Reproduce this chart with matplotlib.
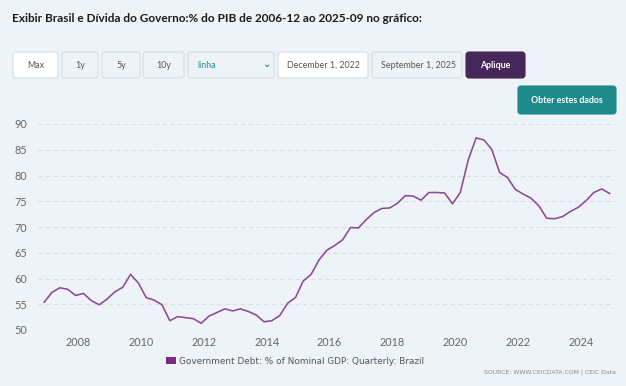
import datetime as dt

import matplotlib
matplotlib.use("Agg")
import matplotlib.dates as mdates
import matplotlib.pyplot as plt
import pandas as pd
from matplotlib.patches import FancyBboxPatch, Rectangle

# Quarterly government debt, % of nominal GDP, Brazil (Dec 2006 .. Dec 2024)
start_date = "2006-12-01"
debt_pct = [
    55.4, 57.3, 58.2, 57.9, 56.7, 57.1, 55.7, 54.9, 56.0, 57.4,
    58.3, 60.8, 59.1, 56.3, 55.8, 54.9, 51.8, 52.6, 52.4, 52.2,
    51.3, 52.7, 53.4, 54.1, 53.7, 54.1, 53.6, 52.9, 51.6, 51.8,
    52.8, 55.2, 56.3, 59.5, 60.8, 63.6, 65.5, 66.4, 67.5, 69.9,
    69.8, 71.4, 72.8, 73.6, 73.7, 74.6, 76.1, 76.0, 75.2, 76.7,
    76.7, 76.6, 74.5, 76.7, 83.0, 87.3, 86.9, 85.1, 80.6, 79.6,
    77.3, 76.4, 75.6, 74.1, 71.7, 71.6, 72.0, 73.0, 73.8, 75.1,
    76.7, 77.4, 76.5,
]
dates = pd.date_range(start_date, periods=len(debt_pct), freq="QS-DEC")

title = "Exibir Brasil e Dívida do Governo:% do PIB de 2006-12 ao 2025-09 no gráfico:"
series_name = "Government Debt: % of Nominal GDP: Quarterly: Brazil"
source_text = "SOURCE: WWW.CEICDATA.COM | CEIC Data"
y_ticks = [50, 55, 60, 65, 70, 75, 80, 85, 90]

W, H = 626, 386
BG = "#eef3f8"
LINE = "#8a4a99"
GREY = "#666666"

plt.rcParams["font.family"] = ["Lato", "DejaVu Sans"]

fig = plt.figure(figsize=(W / 100, H / 100), dpi=100, facecolor=BG)

# overlay in pixel coordinates for the page furniture
ui = fig.add_axes([0, 0, 1, 1])
ui.set_xlim(0, W)
ui.set_ylim(H, 0)
ui.axis("off")
ui.set_facecolor(BG)

ui.text(12, 18, title, fontsize=8.45, fontweight="bold", color="#1a1a1a",
        va="center", ha="left")


def button(x0, x1, y0, y1, label, face, text_color, edge="#d5dde6",
           bold=False, align="center"):
    ui.add_patch(FancyBboxPatch((x0, y0), x1 - x0, y1 - y0,
                                boxstyle="round,pad=0,rounding_size=3",
                                facecolor=face, edgecolor=edge, linewidth=0.8))
    if align == "center":
        tx, ha = (x0 + x1) / 2, "center"
    else:
        tx, ha = x0 + 9, "left"
    ui.text(tx, (y0 + y1) / 2 + 0.5, label, fontsize=6.4, color=text_color,
            ha=ha, va="center", fontweight="bold" if bold else "normal")


button(13, 58, 52, 78, "Max", "#ffffff", "#555555")
button(62, 98, 52, 78, "1y", "#eef3f8", "#555555")
button(102, 140, 52, 78, "5y", "#eef3f8", "#555555")
button(143, 184, 52, 78, "10y", "#eef3f8", "#555555")
button(188, 274, 52, 78, "linha", "#eef3f8", "#1f8a8c", align="left")
ui.text(266, 64, "⌄", fontsize=7, color="#1f8a8c", ha="center", va="center",
        fontfamily="DejaVu Sans", fontweight="bold")
button(278, 368, 52, 78, "December 1, 2022", "#ffffff", "#555555", align="left")
button(372, 462, 52, 78, "September 1, 2025", "#eef3f8", "#555555", align="left")
button(466, 525, 52, 78, "Aplique", "#472659", "#ffffff", edge="#472659", bold=True)
button(518, 616, 86, 114, "Obter estes dados", "#1e8a8c", "#ffffff",
       edge="#1e8a8c", bold=True)

# legend + source
ui.add_patch(Rectangle((166, 357), 10, 7, facecolor="#7a2a86", edgecolor="none"))
ui.text(179, 361, series_name, fontsize=6.4, color="#555555", ha="left",
        va="center", fontfamily="DejaVu Sans")
ui.text(616, 372, source_text, fontsize=4.4, color="#888888", ha="right",
        va="center", fontfamily="DejaVu Sans")

# chart area: 90 at y=124, 50 at y=330, x from 38 to 615
ax = fig.add_axes([38 / W, (H - 330) / H, (615 - 38) / W, (330 - 124) / H])
ax.set_facecolor("none")
ax.plot(dates, debt_pct, color=LINE, linewidth=1.15, clip_on=False)
ax.set_ylim(50, 90)
ax.set_xlim(dt.datetime(2006, 9, 20), dt.datetime(2025, 2, 2))
ax.set_yticks(y_ticks)
ax.xaxis.set_major_locator(mdates.YearLocator(2))
ax.xaxis.set_major_formatter(mdates.DateFormatter("%Y"))
ax.grid(axis="y", color="#d9dee4", linestyle=(0, (4, 3)), linewidth=0.8)
ax.grid(axis="x", visible=False)
ax.set_axisbelow(True)
for side in ax.spines.values():
    side.set_visible(False)
ax.tick_params(axis="both", length=0, labelsize=7.8, labelcolor=GREY)
ax.tick_params(axis="y", pad=8)
ax.tick_params(axis="x", pad=5)

fig.savefig("out.png", dpi=100, facecolor=BG)
